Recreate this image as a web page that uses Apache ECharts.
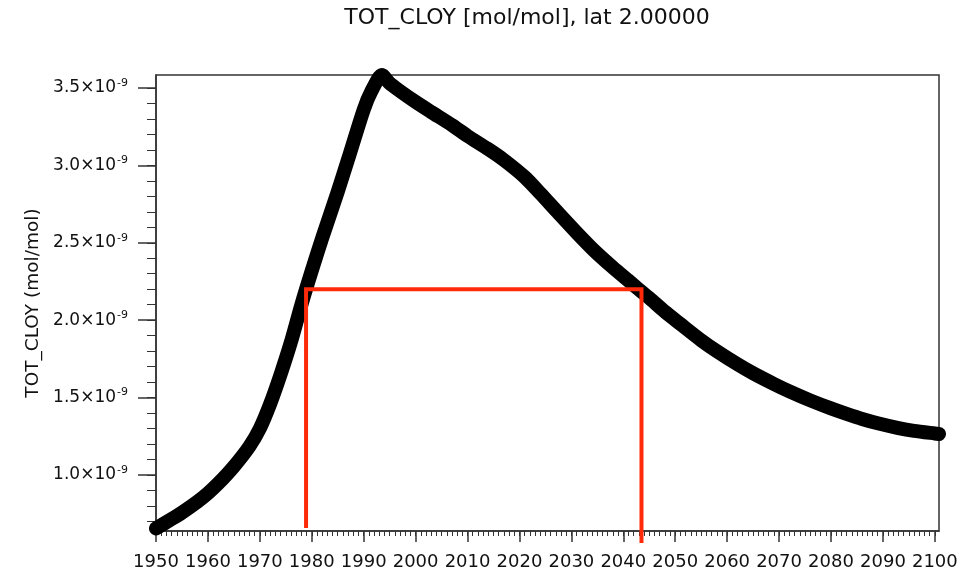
<!DOCTYPE html>
<html>
<head>
<meta charset="utf-8">
<title>TOT_CLOY</title>
<script src="https://cdn.jsdelivr.net/npm/echarts@6/dist/echarts.min.js"></script>
<style>
  html, body { margin: 0; padding: 0; background: #ffffff; }
  #chart { width: 973px; height: 574px; }
</style>
</head>
<body>
<div id="chart"></div>
<script>
// Total inorganic chlorine (TOT_CLOY) at latitude 2, mixing ratio in units of 1e-9 mol/mol
const years = [
  1950, 1953, 1955, 1958, 1960, 1962, 1965, 1968, 1970, 1972,
  1974, 1976, 1978, 1980, 1982, 1985, 1987, 1990, 1991.5, 1993.5,
  1995, 1997, 2000, 2003, 2007, 2010, 2014, 2017, 2021, 2024,
  2027.5, 2031, 2034.5, 2038, 2041, 2043, 2045, 2048, 2051, 2055,
  2058, 2062, 2065, 2069, 2072, 2076, 2080, 2083, 2086, 2089,
  2093, 2096, 2100, 2100.8
];
const cloyValues = [
  0.655, 0.715, 0.757, 0.828, 0.882, 0.945, 1.055, 1.185, 1.30, 1.46,
  1.65, 1.86, 2.10, 2.32, 2.53, 2.83, 3.04, 3.36, 3.48, 3.584,
  3.53, 3.48, 3.41, 3.345, 3.26, 3.19, 3.105, 3.035, 2.925, 2.82,
  2.692, 2.566, 2.446, 2.34, 2.255, 2.198, 2.143, 2.055, 1.975, 1.87,
  1.80, 1.715, 1.657, 1.588, 1.54, 1.482, 1.43, 1.395, 1.362, 1.334,
  1.303, 1.285, 1.268, 1.265
];

// Threshold bracket: years where the curve crosses 2.2e-9 on the way up and down
const markerYears = [1978.9, 1978.9, 2043.5, 2043.5];
const markerValues = [0.657, 2.2, 2.2, 0.56];

// Axis ranges and tick labels
const xRange = [1950, 2100.8];
const yRange = [0.638, 3.584];
const xMajorTicks = [1950, 1960, 1970, 1980, 1990, 2000, 2010, 2020, 2030,
                     2040, 2050, 2060, 2070, 2080, 2090, 2100];
const yMajorTicks = [1.0, 1.5, 2.0, 2.5, 3.0, 3.5];
const yExponent = '-9';

const xMinorTicks = [];
for (let y = 1951; y <= 2100; y++) xMinorTicks.push(y);
const yMinorTicks = [];
for (let k = 7; k <= 35; k++) yMinorTicks.push(k / 10);

const FONT = 'DejaVu Sans';
const INK = '#111111';
const AXIS = '#333333';

const chart = echarts.init(document.getElementById('chart'), null, { renderer: 'canvas' });

const option = {
  animation: false,
  backgroundColor: '#ffffff',
  textStyle: { fontFamily: FONT, color: INK },
  graphic: [{
    type: 'text',
    x: 527,
    y: 18,
    style: {
      text: 'TOT_CLOY [mol/mol], lat 2.00000',
      fontFamily: FONT,
      fontSize: 22,
      fill: INK,
      align: 'center',
      verticalAlign: 'middle'
    }
  }],
  grid: {
    left: 156, right: 34, top: 75, bottom: 43,
    show: true, borderColor: AXIS, borderWidth: 1.5, backgroundColor: 'transparent'
  },
  xAxis: [
    {
      type: 'value', position: 'bottom', min: xRange[0], max: xRange[1],
      axisLine: { show: true, onZero: false, lineStyle: { color: AXIS, width: 1.5 } },
      axisTick: { show: true, length: 11, customValues: xMajorTicks, lineStyle: { color: AXIS, width: 1.5 } },
      axisLabel: {
        customValues: xMajorTicks, margin: 22, fontSize: 18, color: INK, fontFamily: FONT,
        formatter: v => String(Math.round(v))
      },
      splitLine: { show: false }
    },
    {
      type: 'value', position: 'bottom', min: xRange[0], max: xRange[1],
      axisLine: { show: false },
      axisTick: { show: true, length: 5, customValues: xMinorTicks, lineStyle: { color: AXIS, width: 1 } },
      axisLabel: { show: false },
      splitLine: { show: false }
    }
  ],
  yAxis: [
    {
      type: 'value', position: 'left', min: yRange[0], max: yRange[1],
      name: 'TOT_CLOY (mol/mol)', nameLocation: 'middle', nameRotate: 90, nameGap: 110,
      nameTextStyle: { fontSize: 18.5, color: INK, fontFamily: FONT },
      axisLine: { show: true, onZero: false, lineStyle: { color: AXIS, width: 1.5 } },
      axisTick: { show: true, length: 18, customValues: yMajorTicks, lineStyle: { color: AXIS, width: 1.5 } },
      axisLabel: {
        customValues: yMajorTicks, margin: 28, color: INK,
        formatter: v => '{m|' + v.toFixed(1) + '×10}{s|' + yExponent + '}',
        rich: {
          m: { fontSize: 17, fontFamily: FONT, color: INK },
          s: { fontSize: 11, fontFamily: FONT, color: INK, padding: [0, 0, 10, 1] }
        }
      },
      splitLine: { show: false }
    },
    {
      type: 'value', position: 'left', min: yRange[0], max: yRange[1],
      axisLine: { show: false },
      axisTick: { show: true, length: 9, customValues: yMinorTicks, lineStyle: { color: AXIS, width: 1 } },
      axisLabel: { show: false },
      splitLine: { show: false }
    }
  ],
  series: [
    {
      name: 'TOT_CLOY',
      type: 'line',
      xAxisIndex: 0, yAxisIndex: 0,
      data: years.map((yr, i) => [yr, cloyValues[i]]),
      showSymbol: false,
      symbol: 'none',
      smooth: 0.25,
      clip: true,
      lineStyle: { color: '#000000', width: 14, join: 'round', cap: 'round' },
      z: 2
    },
    {
      name: 'threshold',
      type: 'line',
      xAxisIndex: 0, yAxisIndex: 0,
      data: markerYears.map((yr, i) => [yr, markerValues[i]]),
      showSymbol: false,
      symbol: 'none',
      clip: false,
      lineStyle: { color: '#ff2a0a', width: 4, join: 'miter', cap: 'butt' },
      z: 3
    }
  ]
};

chart.setOption(option);
</script>
</body>
</html>
